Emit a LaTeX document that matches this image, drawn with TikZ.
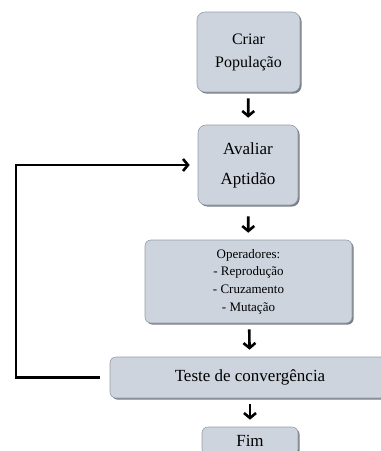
\documentclass[tikz,border=0pt]{standalone}
\usepackage{fontspec}
\setmainfont{Liberation Serif}
\usetikzlibrary{arrows.meta,shadows}

\definecolor{caixa}{RGB}{205,212,222}
\definecolor{borda}{RGB}{150,157,166}
\definecolor{sombra}{RGB}{120,126,134}

\begin{document}
\begin{tikzpicture}[x=1pt,y=-1pt]
	\tikzstyle{every node}=[font=\fontsize{17pt}{30pt}\selectfont]
	\tikzstyle{etapa}=[draw=borda, line width=0.6pt, fill=caixa, rounded corners=8pt, align=center, drop shadow={shadow xshift=1.6pt, shadow yshift=-1.6pt, fill=sombra, opacity=1}]
	\tikzstyle{seta}=[line width=2.6pt, -{Straight Barb[length=5pt,width=12pt]}, shorten <=6pt, shorten >=7pt]
	
	\useasboundingbox (0,0) rectangle (381,451);
	\clip (0,0) rectangle (381,451);
	
	\node[etapa, minimum width=103pt, minimum height=80pt, font=\fontsize{16pt}{23pt}\selectfont] (criar) at (248.5,52) {Criar\\População};
	\node[etapa, minimum width=100pt, minimum height=80pt] (avaliar) at (248,165) {Avaliar\\Aptidão};
	\node[etapa, minimum width=207pt, minimum height=83pt, rounded corners=6pt, font=\fontsize{13pt}{17.7pt}\selectfont] (oper) at (248.5,281.5) {Operadores:\\- Reprodução\\- Cruzamento\\- Mutação};
	\node[etapa, minimum width=280pt, minimum height=41pt, rounded corners=6pt] (teste) at (250,377.5) {Teste de convergência};
	\node[etapa, minimum width=96pt, minimum height=28pt, rounded corners=6pt] (fim) at (250,441) {Fim};
	
	\coordinate (volta) at (16,270);
	
	\draw[seta] (criar) -- (avaliar);
	\draw[seta, shorten <=11pt] (avaliar) -- (oper);
	\draw[seta] (oper) -- (teste);
	\draw[seta] (teste) -- (fim);
	\draw[seta, shorten <=10pt, shorten >=8pt] (teste.west) -| (volta) |- (avaliar.west);
	
\end{tikzpicture}
\end{document}
